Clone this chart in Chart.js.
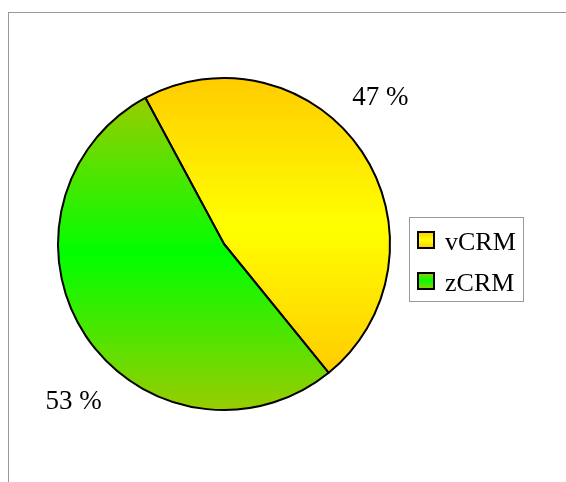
<!DOCTYPE html>
<html>
<head>
  <meta charset="UTF-8">
  <title>vCRM / zCRM</title>
  <script src="https://cdn.jsdelivr.net/npm/chart.js"></script>
  <style>
    body { margin: 0; background: #fff; }
    #frame { position: absolute; left: 8px; top: 12px; right: 0; bottom: 0; border-top: 1px solid #999; border-left: 1px solid #999; }
    #pie { position: absolute; left: 0; top: 0; }
  </style>
</head>
<body>
  <div id="frame"></div>
  <canvas id="pie" width="566" height="482"></canvas>

  <script>
    const labels = ['vCRM', 'zCRM'];
    const values = [47, 53];
    const pctLabels = ['47 %', '53 %'];
    // edge colour / middle colour of each slice's vertical gradient
    const edgeColors = ['#ffcc00', '#99cc00'];
    const midColors = ['#ffff00', '#00ff00'];

    const rotationDeg = -28.3;
    const serif = '"Liberation Serif", "DejaVu Serif", serif';

    // vertical gradient over the bounding box of each slice
    function sliceGradient(ctx) {
      const chart = ctx.chart;
      const area = chart.chartArea;
      const i = ctx.dataIndex;
      if (!area || i === undefined) return edgeColors[i || 0];
      const cx = (area.left + area.right) / 2;
      const cy = (area.top + area.bottom) / 2;
      const r = (Math.min(area.right - area.left, area.bottom - area.top) - 2) / 2;
      const total = values.reduce((a, b) => a + b, 0);
      let a0 = (rotationDeg - 90) * Math.PI / 180;
      for (let k = 0; k < i; k++) a0 += values[k] / total * Math.PI * 2;
      const a1 = a0 + values[i] / total * Math.PI * 2;
      let ys = [cy, cy + r * Math.sin(a0), cy + r * Math.sin(a1)];
      for (let q = -4; q <= 8; q++) {
        const a = q * Math.PI / 2;
        if (a > a0 && a < a1) ys.push(cy + r * Math.sin(a));
      }
      const y0 = Math.min(...ys), y1 = Math.max(...ys);
      const g = chart.ctx.createLinearGradient(0, y0, 0, y1);
      g.addColorStop(0, edgeColors[i]);
      g.addColorStop(0.5, midColors[i]);
      g.addColorStop(1, edgeColors[i]);
      return g;
    }

    const extras = {
      id: 'extras',
      afterDraw(chart) {
        const ctx = chart.ctx;
        const arcs = chart.getDatasetMeta(0).data;
        ctx.save();
        // percentage labels outside the pie
        ctx.font = '27px ' + serif;
        ctx.fillStyle = '#000';
        ctx.textAlign = 'center';
        ctx.textBaseline = 'middle';
        arcs.forEach((arc, i) => {
          const mid = (arc.startAngle + arc.endAngle) / 2 - 11 * Math.PI / 180;
          const d = arc.outerRadius * 1.3;
          ctx.fillText(pctLabels[i], arc.x + d * Math.cos(mid) + 3, arc.y + d * Math.sin(mid) + 6);
        });

        // legend box
        const lx = 409, ly = 217, lw = 114, lh = 84;
        ctx.strokeStyle = '#999';
        ctx.lineWidth = 1;
        ctx.strokeRect(lx + 0.5, ly + 0.5, lw, lh);
        ctx.textAlign = 'left';
        ctx.textBaseline = 'alphabetic';
        labels.forEach((lab, i) => {
          const my = 240 + i * 41;
          const g = ctx.createLinearGradient(0, my - 8, 0, my + 8);
          g.addColorStop(0, edgeColors[i]);
          g.addColorStop(0.5, midColors[i]);
          g.addColorStop(1, edgeColors[i]);
          ctx.fillStyle = g;
          ctx.fillRect(418, my - 8, 16, 16);
          ctx.strokeStyle = '#000';
          ctx.lineWidth = 2;
          ctx.strokeRect(418, my - 8, 16, 16);
          ctx.fillStyle = '#000';
          ctx.font = '26px ' + serif;
          ctx.fillText(lab, 445, my + 10);
        });
        ctx.restore();
      }
    };

    new Chart(document.getElementById('pie'), {
      type: 'pie',
      data: {
        labels: labels,
        datasets: [{
          data: values,
          backgroundColor: sliceGradient,
          borderColor: '#000',
          borderWidth: 2
        }]
      },
      options: {
        responsive: false,
        animation: false,
        rotation: rotationDeg,
        layout: { padding: { left: 57, right: 175, top: 77, bottom: 71 } },
        plugins: {
          legend: { display: false },
          tooltip: { enabled: false }
        }
      },
      plugins: [extras]
    });
  </script>
</body>
</html>
